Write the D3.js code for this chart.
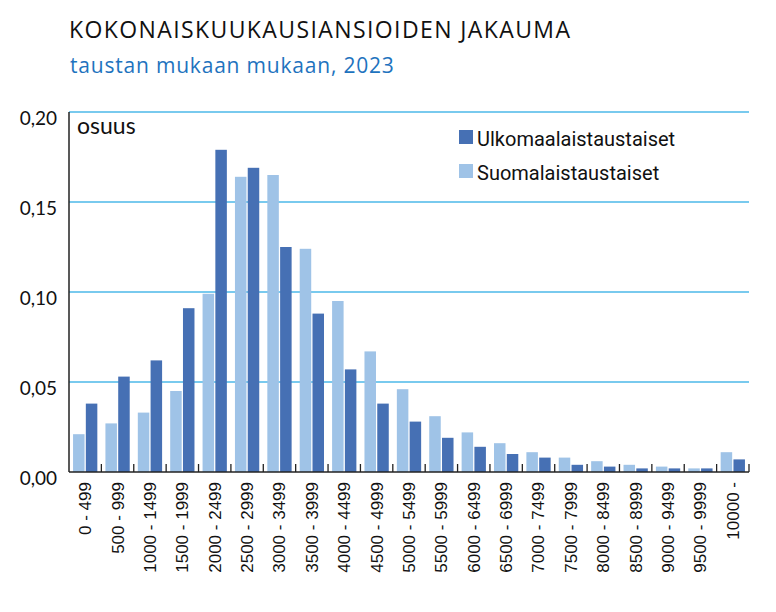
<!DOCTYPE html>
<html>
<head>
<meta charset="utf-8">
<script src="https://cdn.jsdelivr.net/npm/d3@7"></script>
<style>
  body { margin: 0; background: #fff; }
</style>
</head>
<body>
<div id="chart"></div>
<script>
// tuloluokat (euroa / kk)
const categories = ["0 - 499", "500 - 999", "1000 - 1499", "1500 - 1999", "2000 - 2499",
  "2500 - 2999", "3000 - 3499", "3500 - 3999", "4000 - 4499", "4500 - 4999",
  "5000 - 5499", "5500 - 5999", "6000 - 6499", "6500 - 6999", "7000 - 7499",
  "7500 - 7999", "8000 - 8499", "8500 - 8999", "9000 - 9499", "9500 - 9999", "10000 -"];
const suomalaiset = [0.021, 0.027, 0.033, 0.045, 0.099, 0.164, 0.165, 0.124, 0.095, 0.067,
  0.046, 0.031, 0.022, 0.016, 0.011, 0.008, 0.006, 0.004, 0.003, 0.002, 0.011];
const ulkomaalaiset = [0.038, 0.053, 0.062, 0.091, 0.179, 0.169, 0.125, 0.088, 0.057, 0.038,
  0.028, 0.019, 0.014, 0.010, 0.008, 0.004, 0.003, 0.002, 0.002, 0.002, 0.007];
const seriesNames = ["Suomalaistaustaiset", "Ulkomaalaistaustaiset"];
const yTicks = [0, 0.05, 0.10, 0.15, 0.20];

const width = 776, height = 612;
const colors = { "Suomalaistaustaiset": "#9fc3e7", "Ulkomaalaistaustaiset": "#4670b4" };
const plotLeft = 69, plotRight = 749, plotTop = 112, plotBottom = 472;

const svg = d3.select("#chart").append("svg")
  .attr("width", width)
  .attr("height", height);

// otsikot
svg.append("text")
  .attr("x", 69).attr("y", 38)
  .style("font-family", "'Open Sans', sans-serif")
  .style("font-size", "23px")
  .style("letter-spacing", "1.4px")
  .attr("fill", "#111")
  .text("KOKONAISKUUKAUSIANSIOIDEN JAKAUMA");

svg.append("text")
  .attr("x", 70).attr("y", 72.5)
  .style("font-family", "'Open Sans', sans-serif")
  .style("font-size", "21px")
  .style("letter-spacing", "0.8px")
  .attr("fill", "#1e73be")
  .text("taustan mukaan mukaan, 2023");

const y = d3.scaleLinear().domain([0, 0.20]).range([plotBottom, plotTop]);
const x0 = d3.scaleBand().domain(categories).range([plotLeft, plotRight])
  .paddingInner(0.25).paddingOuter(0.125);
const x1 = d3.scaleBand().domain(seriesNames).range([0, x0.bandwidth()]).paddingInner(0.1);

// ruudukko
svg.append("g").selectAll("line")
  .data(yTicks.filter(d => d > 0))
  .enter().append("line")
  .attr("x1", plotLeft).attr("x2", plotRight)
  .attr("y1", d => y(d)).attr("y2", d => y(d))
  .attr("stroke", "#4db8e8")
  .attr("stroke-width", 1.3);

// y-akselin tekstit
svg.append("g").selectAll("text")
  .data(yTicks)
  .enter().append("text")
  .attr("x", 57)
  .attr("y", d => y(d) + 13)
  .attr("text-anchor", "end")
  .style("font-family", "Lato, sans-serif")
  .style("font-size", "19px")
  .attr("fill", "#111")
  .text(d => d3.format(".2f")(d).replace(".", ","));

svg.append("text")
  .attr("x", 77).attr("y", 134)
  .style("font-family", "Lato, sans-serif")
  .style("font-size", "23px")
  .attr("fill", "#111")
  .text("osuus");

// pylväät
const rows = categories.map((c, i) => ({
  cat: c,
  values: [
    { name: "Suomalaistaustaiset", value: suomalaiset[i] },
    { name: "Ulkomaalaistaustaiset", value: ulkomaalaiset[i] }
  ]
}));

const group = svg.append("g").selectAll("g")
  .data(rows)
  .enter().append("g")
  .attr("transform", d => `translate(${x0(d.cat)},0)`);

group.selectAll("rect")
  .data(d => d.values)
  .enter().append("rect")
  .attr("x", d => x1(d.name))
  .attr("y", d => y(d.value))
  .attr("width", x1.bandwidth())
  .attr("height", d => plotBottom - y(d.value))
  .attr("fill", d => colors[d.name]);

// akselit
svg.append("line")
  .attr("x1", plotLeft).attr("x2", plotLeft)
  .attr("y1", plotTop).attr("y2", plotBottom)
  .attr("stroke", "#222").attr("stroke-width", 1.5);
svg.append("line")
  .attr("x1", plotLeft).attr("x2", plotRight)
  .attr("y1", plotBottom).attr("y2", plotBottom)
  .attr("stroke", "#222").attr("stroke-width", 1.5);

// luokkarajat (tikit ylöspäin)
const boundary = d => x0(d) - x0.step() * 0.125 + x0.step();
svg.append("g").selectAll("line")
  .data(categories)
  .enter().append("line")
  .attr("x1", boundary)
  .attr("x2", boundary)
  .attr("y1", plotBottom - 8).attr("y2", plotBottom)
  .attr("stroke", "#222").attr("stroke-width", 1.3);

// x-akselin tekstit
svg.append("g").selectAll("text")
  .data(categories)
  .enter().append("text")
  .attr("transform", d => `translate(${x0(d) + x0.bandwidth() / 2},482) rotate(-90)`)
  .attr("text-anchor", "end")
  .attr("dy", "0.35em")
  .style("font-family", "'Liberation Sans', Arial, sans-serif")
  .style("font-size", "17px")
  .attr("fill", "#111")
  .text(d => d);

// selite
const legendData = ["Ulkomaalaistaustaiset", "Suomalaistaustaiset"];
const legend = svg.append("g").selectAll("g")
  .data(legendData)
  .enter().append("g")
  .attr("transform", (d, i) => `translate(459,${130 + i * 34})`);
legend.append("rect")
  .attr("width", 14).attr("height", 14)
  .attr("fill", d => colors[d]);
legend.append("text")
  .attr("x", 18).attr("y", 15.5)
  .style("font-family", "Roboto, sans-serif")
  .style("font-size", "20px")
  .attr("fill", "#111")
  .text(d => d);
</script>
</body>
</html>
